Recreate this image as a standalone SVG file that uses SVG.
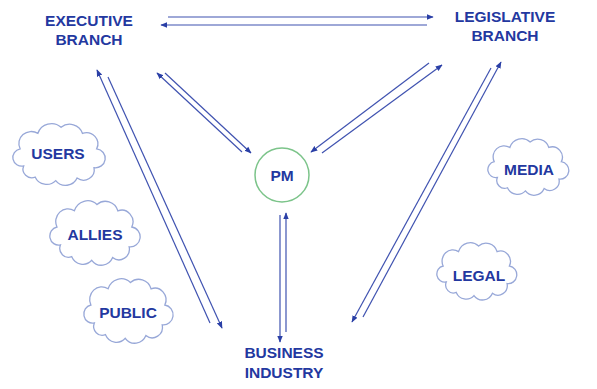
<svg xmlns="http://www.w3.org/2000/svg" xmlns:xlink="http://www.w3.org/1999/xlink" width="597" height="389" viewBox="0 0 597 389">
<style>
.lbl{font-family:"Liberation Sans",Arial,sans-serif;font-weight:bold;font-size:15.5px;fill:#2338a0;text-anchor:middle}
.arr{stroke:#3f52b0;stroke-width:1.2;fill:none;marker-end:url(#ah)}
.ln{stroke:#3f52b0;stroke-width:1.2;fill:none}
.cloud{fill:#fff;stroke:#98a8d8;stroke-width:1.3}
</style>
<defs>
<marker id="ah" viewBox="0 0 10 10" refX="9" refY="5" markerWidth="7" markerHeight="7" markerUnits="userSpaceOnUse" orient="auto">
<path d="M0,1 L10,5 L0,9 Z" fill="#2a3fa6"/>
</marker>
<path id="cloud" vector-effect="non-scaling-stroke" d="M12,50 A10 10 0 0 1 8,30 A14 14 0 0 1 28,12 A16 16 0 0 1 54,5 A15 15 0 0 1 78,12 A13 13 0 0 1 94,30 A11 11 0 0 1 91,52 A12 12 0 0 1 72,64 A14 14 0 0 1 48,67 A14 14 0 0 1 25,63 A10 10 0 0 1 12,50 Z"/>
</defs>
<rect width="597" height="389" fill="#fff"/>
<g id="connectors">
<line class="arr" x1="168" y1="17" x2="433" y2="17"/>
<line class="arr" x1="427" y1="25" x2="161" y2="25"/>
<line class="arr" x1="242" y1="152" x2="157" y2="73"/>
<line class="arr" x1="165" y1="73" x2="251" y2="153"/>
<line class="arr" x1="322" y1="153" x2="442" y2="65"/>
<line class="arr" x1="429" y1="63" x2="311" y2="152"/>
<line class="arr" x1="210" y1="323" x2="97" y2="70"/>
<line class="arr" x1="108" y1="77" x2="222" y2="328"/>
<line class="arr" x1="363" y1="317" x2="501" y2="62"/>
<line class="arr" x1="491" y1="68" x2="352" y2="322"/>
<line class="arr" x1="280" y1="215" x2="280" y2="342"/>
<line class="arr" x1="286" y1="332" x2="286" y2="213"/>
</g>
<g id="executive"><text class="lbl" x="89" y="26">EXECUTIVE</text><text class="lbl" x="89" y="45">BRANCH</text></g>
<g id="legislative"><text class="lbl" x="505" y="22">LEGISLATIVE</text><text class="lbl" x="505" y="41">BRANCH</text></g>
<g id="pm"><circle cx="282" cy="175" r="27" fill="#fff" stroke="#7cc48a" stroke-width="1.5"/><text class="lbl" x="282" y="181">PM</text></g>
<g id="business"><text class="lbl" x="284" y="358">BUSINESS</text><text class="lbl" x="284" y="378">INDUSTRY</text></g>
<g id="users"><use xlink:href="#cloud" class="cloud" transform="translate(13,123) scale(0.89,0.86)"/><text class="lbl" x="58" y="159">USERS</text></g>
<g id="allies"><use xlink:href="#cloud" class="cloud" transform="translate(50,200) scale(0.87,0.9)"/><text class="lbl" x="95" y="240">ALLIES</text></g>
<g id="public"><use xlink:href="#cloud" class="cloud" transform="translate(84,278) scale(0.86,0.9)"/><text class="lbl" x="128" y="318">PUBLIC</text></g>
<g id="media"><use xlink:href="#cloud" class="cloud" transform="translate(488,138) scale(0.78,0.79)"/><text class="lbl" x="529" y="175">MEDIA</text></g>
<g id="legal"><use xlink:href="#cloud" class="cloud" transform="translate(437,242) scale(0.77,0.8)"/><text class="lbl" x="479" y="281">LEGAL</text></g>
</svg>
